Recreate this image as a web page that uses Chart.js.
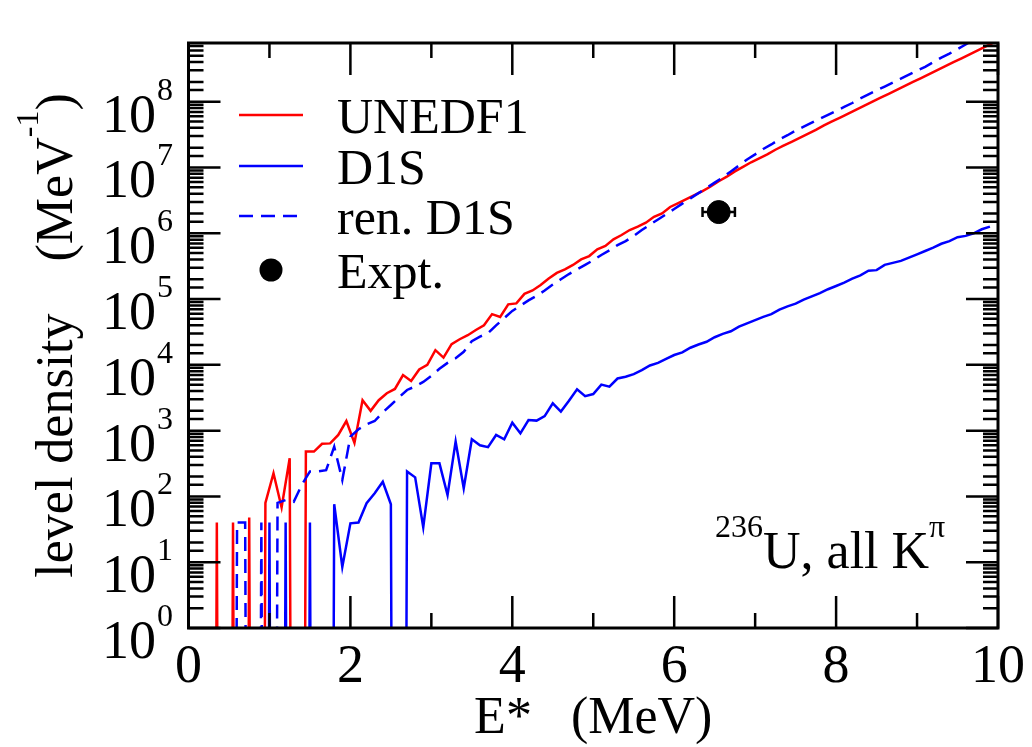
<!DOCTYPE html>
<html>
<head>
<meta charset="utf-8">
<script src="https://cdn.jsdelivr.net/npm/chart.js@4.4.1/dist/chart.umd.min.js"></script>
<style>
  html, body { margin: 0; padding: 0; background: #fff; }
</style>
</head>
<body>
<canvas id="chart" width="1032" height="747"></canvas>
<script>
// excitation energy grids (MeV)
const energyUnedf1 = [
  0.05, 0.15, 0.25, 0.35, 0.45, 0.55, 0.65, 0.75, 0.85, 0.95,
  1.05, 1.15, 1.25, 1.35, 1.45, 1.55, 1.65, 1.75, 1.85, 1.95,
  2.05, 2.15, 2.25, 2.35, 2.45, 2.55, 2.65, 2.75, 2.85, 2.95,
  3.05, 3.15, 3.25, 3.35, 3.45, 3.55, 3.65, 3.75, 3.85, 3.95,
  4.05, 4.15, 4.25, 4.35, 4.45, 4.55, 4.65, 4.75, 4.85, 4.95,
  5.05, 5.15, 5.25, 5.35, 5.45, 5.55, 5.65, 5.75, 5.85, 5.95,
  6.05, 6.15, 6.25, 6.35, 6.45, 6.55, 6.65, 6.75, 6.85, 6.95,
  7.05, 7.15, 7.25, 7.35, 7.45, 7.55, 7.65, 7.75, 7.85, 7.95,
  8.05, 8.15, 8.25, 8.35, 8.45, 8.55, 8.65, 8.75, 8.85, 8.95,
  9.05, 9.15, 9.25, 9.35, 9.45, 9.55, 9.65, 9.75, 9.85, 9.95
];
const energyD1S = [
  0.1, 0.2, 0.3, 0.4, 0.5, 0.6, 0.7, 0.8, 0.9,
  1.0, 1.1, 1.2, 1.3, 1.4, 1.5, 1.6, 1.7, 1.8, 1.9,
  2.0, 2.1, 2.2, 2.3, 2.4, 2.5, 2.6, 2.7, 2.8, 2.9,
  3.0, 3.1, 3.2, 3.3, 3.4, 3.5, 3.6, 3.7, 3.8, 3.9,
  4.0, 4.1, 4.2, 4.3, 4.4, 4.5, 4.6, 4.7, 4.8, 4.9,
  5.0, 5.1, 5.2, 5.3, 5.4, 5.5, 5.6, 5.7, 5.8, 5.9,
  6.0, 6.1, 6.2, 6.3, 6.4, 6.5, 6.6, 6.7, 6.8, 6.9,
  7.0, 7.1, 7.2, 7.3, 7.4, 7.5, 7.6, 7.7, 7.8, 7.9,
  8.0, 8.1, 8.2, 8.3, 8.4, 8.5, 8.6, 8.7, 8.8, 8.9,
  9.0, 9.1, 9.2, 9.3, 9.4, 9.5, 9.6, 9.7, 9.8, 9.9
];

// level densities (1/MeV); 0 = empty bin
const rhoUnedf1 = [
  0, 0, 0, 40, 0, 40, 0, 48, 0, 80,
  225, 68, 380, 0, 480, 480, 630, 640, 860, 1400,
  650, 2900, 2000, 2900, 3700, 4300, 7000, 5700, 8500, 10000,
  16700, 12900, 20700, 24500, 28200, 33800, 40000, 59000, 53500, 83000,
  86000, 120000, 135000, 163000, 205000, 250000, 283000, 330000, 400000, 450000,
  570000, 640000, 810000, 940000, 1.12e6, 1.26e6, 1.45e6, 1.78e6, 2.0e6, 2.51e6,
  2.88e6, 3.31e6, 3.8e6, 4.37e6, 5.13e6, 6.17e6, 7.24e6, 8.71e6, 1.02e7, 1.2e7,
  1.38e7, 1.58e7, 1.86e7, 2.14e7, 2.45e7, 2.82e7, 3.24e7, 3.72e7, 4.37e7, 5.01e7,
  5.75e7, 6.61e7, 7.59e7, 8.71e7, 1.0e8, 1.15e8, 1.32e8, 1.51e8, 1.74e8, 2.0e8,
  2.29e8, 2.63e8, 3.02e8, 3.47e8, 3.98e8, 4.57e8, 5.25e8, 6.03e8, 6.92e8, 7.94e8
];
const rhoD1S = [
  0, 0, 0, 0, 0, 0, 0, 0, 0,
  40, 0, 40, 0, 0, 40, 0, 0, 76, 8.5,
  39, 40, 79, 112, 167, 76, 0, 240, 195, 34,
  318, 318, 105, 680, 133, 740, 600, 560, 860, 740,
  1320, 910, 1450, 1420, 1660, 2600, 1950, 2850, 4250, 3350,
  3600, 5000, 4650, 6200, 6600, 7240, 8320, 9770, 10700, 12300,
  14100, 15500, 18200, 20400, 22400, 26300, 29500, 32400, 38000, 42700,
  47900, 53700, 58900, 69200, 77600, 85100, 97700, 110000, 123000, 141000,
  158000, 178000, 204000, 229000, 269000, 275000, 331000, 355000, 380000, 427000,
  479000, 537000, 603000, 692000, 759000, 871000, 912000, 1.0e6, 1.15e6, 1.26e6
];
const rhoRenD1S = [
  0, 0, 0, 0, 0, 40, 40, 0, 40,
  0, 80, 88, 83, 150, 240, 240, 250, 570, 178,
  810, 1050, 1250, 1400, 1900, 2450, 3200, 4150, 4700, 5500,
  6800, 8700, 10700, 12600, 15800, 22900, 26900, 30200, 39800, 51300,
  66100, 79400, 95500, 112000, 135000, 166000, 200000, 240000, 282000, 331000,
  389000, 468000, 550000, 661000, 759000, 912000, 1.12e6, 1.35e6, 1.62e6, 1.95e6,
  2.34e6, 2.82e6, 3.39e6, 4.07e6, 4.9e6, 5.89e6, 7.08e6, 8.71e6, 1.07e7, 1.32e7,
  1.58e7, 1.91e7, 2.24e7, 2.69e7, 3.09e7, 3.63e7, 4.17e7, 4.79e7, 5.5e7, 6.31e7,
  7.24e7, 8.32e7, 9.55e7, 1.12e8, 1.29e8, 1.48e8, 1.7e8, 1.95e8, 2.24e8, 2.57e8,
  2.95e8, 3.39e8, 3.98e8, 4.68e8, 5.37e8, 6.31e8, 7.41e8, 8.71e8, 1.0e9, 1.15e9
];

// experimental point
const exptE = [6.55];
const exptRho = [2.1e6];
const exptErrE = [0.2];

const seriesLabels = ['UNEDF1', 'D1S', 'ren. D1S', 'Expt.'];
const xLabelTicks = [0, 2, 4, 6, 8, 10];
const yDecadeExponents = [0, 1, 2, 3, 4, 5, 6, 7, 8];

const SERIF = '"Liberation Serif", "Times New Roman", serif';
const ZERO_LEVEL = 1e-30; // empty bins drop off the bottom of the log axis

function toPoints(xs, ys) {
  return xs.map((x, i) => ({ x: x, y: ys[i] > 0 ? ys[i] : ZERO_LEVEL }));
}

// text made of pieces, some raised and smaller (superscripts)
function drawRun(ctx, parts, x, y) {
  parts.forEach(p => {
    ctx.font = p.size + 'px ' + SERIF;
    ctx.fillText(p.text, x, y - (p.raise || 0));
    x += ctx.measureText(p.text).width;
  });
  return x;
}
function runWidth(ctx, parts) {
  let w = 0;
  parts.forEach(p => {
    ctx.font = p.size + 'px ' + SERIF;
    w += ctx.measureText(p.text).width;
  });
  return w;
}

const framePlugin = {
  id: 'frame',
  afterDatasetsDraw(chart) {
    const ctx = chart.ctx;
    const xs = chart.scales.x;
    const ys = chart.scales.y;
    const a = chart.chartArea;
    ctx.save();
    ctx.strokeStyle = '#000';
    ctx.fillStyle = '#000';
    ctx.lineCap = 'butt';

    // x error bar of the experimental point
    ctx.lineWidth = 2.5;
    exptE.forEach((e, i) => {
      const py = ys.getPixelForValue(exptRho[i]);
      const x0 = xs.getPixelForValue(e - exptErrE[i]);
      const x1 = xs.getPixelForValue(e + exptErrE[i]);
      ctx.beginPath();
      ctx.moveTo(x0, py); ctx.lineTo(x1, py);
      ctx.moveTo(x0, py - 5); ctx.lineTo(x0, py + 5);
      ctx.moveTo(x1, py - 5); ctx.lineTo(x1, py + 5);
      ctx.stroke();
    });

    // ticks pointing inward on all four sides
    ctx.lineWidth = 2.5;
    ctx.beginPath();
    xs.ticks.forEach(t => {
      const px = xs.getPixelForValue(t.value);
      const len = xLabelTicks.includes(t.value) ? 32 : 15;
      ctx.moveTo(px, a.bottom); ctx.lineTo(px, a.bottom - len);
      ctx.moveTo(px, a.top); ctx.lineTo(px, a.top + len);
    });
    ys.ticks.forEach(t => {
      if (!(t.value > 0)) return;
      const py = ys.getPixelForValue(t.value);
      if (py < a.top + 1) return;
      const lg = Math.log10(t.value);
      const len = Math.abs(lg - Math.round(lg)) < 1e-6 ? 32 : 15;
      ctx.moveTo(a.left, py); ctx.lineTo(a.left + len, py);
      ctx.moveTo(a.right, py); ctx.lineTo(a.right - len, py);
    });
    ctx.stroke();

    // frame
    ctx.lineWidth = 3;
    ctx.strokeRect(a.left, a.top, a.right - a.left, a.bottom - a.top);

    // y tick labels 10^n
    ctx.textBaseline = 'alphabetic';
    yDecadeExponents.forEach(n => {
      const py = ys.getPixelForValue(Math.pow(10, n));
      ctx.font = '54px ' + SERIF;
      ctx.textAlign = 'right';
      ctx.fillText('10', 156, py + 30);
      ctx.font = '32px ' + SERIF;
      ctx.textAlign = 'left';
      ctx.fillText(String(n), 157, py - 2);
    });

    // y axis title
    ctx.textAlign = 'left';
    const yTitle = [
      { text: 'level density    (MeV', size: 52 },
      { text: '-1', size: 32, raise: 34 },
      { text: ')', size: 52 }
    ];
    ctx.save();
    ctx.translate(72, (a.top + a.bottom) / 2);
    ctx.rotate(-Math.PI / 2);
    drawRun(ctx, yTitle, -runWidth(ctx, yTitle) / 2, 0);
    ctx.restore();

    // nucleus label
    drawRun(ctx, [
      { text: '236', size: 32, raise: 31 },
      { text: 'U, all K', size: 52 },
      { text: '\u03c0', size: 32, raise: 31 }
    ], 715, 568);

    // legend
    const rows = [115, 166, 216, 270];
    chart.data.datasets.forEach((ds, i) => {
      const y = rows[i];
      if (ds.showLine === false) {
        ctx.beginPath();
        ctx.arc(271, y, ds.pointRadius, 0, Math.PI * 2);
        ctx.fill();
      } else {
        ctx.save();
        ctx.strokeStyle = ds.borderColor;
        ctx.lineWidth = ds.borderWidth;
        ctx.setLineDash(ds.borderDash || []);
        ctx.beginPath();
        ctx.moveTo(239, y); ctx.lineTo(303, y);
        ctx.stroke();
        ctx.restore();
      }
      ctx.font = '50px ' + SERIF;
      ctx.fillText(ds.label, 337, y + 18);
    });

    ctx.restore();
  }
};

const config = {
  type: 'line',
  data: {
    datasets: [
      {
        label: seriesLabels[0],
        data: toPoints(energyUnedf1, rhoUnedf1),
        borderColor: '#ff0000',
        borderWidth: 2.5,
        pointRadius: 0,
        order: 3,
        clip: 0
      },
      {
        label: seriesLabels[1],
        data: toPoints(energyD1S, rhoD1S),
        borderColor: '#0000ff',
        borderWidth: 2.5,
        pointRadius: 0,
        order: 2,
        clip: 0
      },
      {
        label: seriesLabels[2],
        data: toPoints(energyD1S, rhoRenD1S),
        borderColor: '#0000ff',
        borderWidth: 2.5,
        borderDash: [14, 8],
        pointRadius: 0,
        order: 1,
        clip: 0
      },
      {
        label: seriesLabels[3],
        data: exptE.map((e, i) => ({ x: e, y: exptRho[i] })),
        showLine: false,
        pointRadius: 11.5,
        pointBackgroundColor: '#000',
        pointBorderColor: '#000',
        borderColor: '#000',
        order: 0
      }
    ]
  },
  options: {
    responsive: false,
    animation: false,
    layout: { padding: { left: 0, top: 43, right: 31.5, bottom: 0 } },
    plugins: {
      legend: { display: false },
      tooltip: { enabled: false }
    },
    scales: {
      x: {
        type: 'linear',
        min: 0,
        max: 10,
        grid: { display: false, drawTicks: false },
        border: { display: false },
        ticks: {
          stepSize: 1,
          autoSkip: false,
          maxRotation: 0,
          padding: 7,
          color: '#000',
          font: { family: SERIF, size: 54 },
          callback: (v) => xLabelTicks.includes(v) ? String(v) : ''
        },
        title: {
          display: true,
          text: 'E*   (MeV)',
          color: '#000',
          font: { family: SERIF, size: 52, lineHeight: 1 },
          padding: { top: 0, bottom: 1.5 }
        },
        afterFit: (s) => { s.height = 119; }
      },
      y: {
        type: 'logarithmic',
        min: 1,
        max: 7.8e8,
        grid: { display: false, drawTicks: false },
        border: { display: false },
        ticks: { display: false, autoSkip: false },
        afterFit: (s) => { s.width = 188.5; }
      }
    }
  },
  plugins: [framePlugin]
};

new Chart(document.getElementById('chart'), config);
</script>
</body>
</html>
